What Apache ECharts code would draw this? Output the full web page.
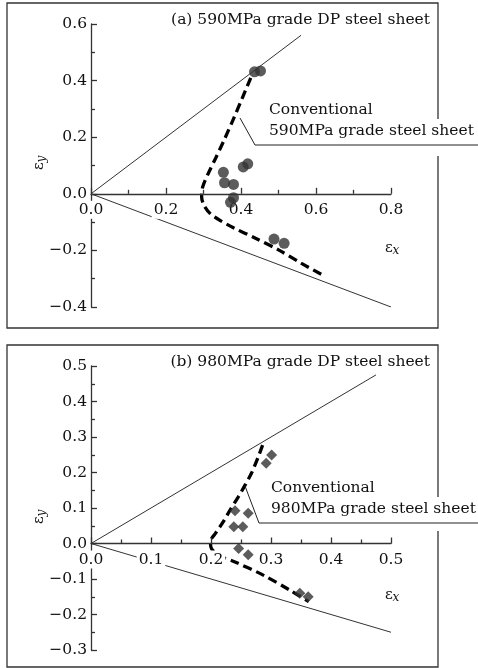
<!DOCTYPE html>
<html>
<head>
<meta charset="utf-8">
<script src="https://cdn.jsdelivr.net/npm/echarts@6/dist/echarts.min.js"></script>
<style>
html, body { margin: 0; padding: 0; background: #fff; }
#chart { width: 478px; height: 668px; }
</style>
</head>
<body>
<div id="chart"></div>
<script>
// (a) 590MPa panel
const guideUpperA = [[0, 0], [0.56, 0.56]];
const guideLowerA = [[0, 0], [0.8, -0.4]];
const conventionalA = [
    [0.426, 0.41], [0.404, 0.34], [0.38, 0.265], [0.355, 0.19], [0.332, 0.125],
    [0.312, 0.07], [0.298, 0.025], [0.295, -0.01], [0.301, -0.04], [0.318, -0.07],
    [0.345, -0.095], [0.38, -0.12], [0.44, -0.158], [0.5, -0.198], [0.56, -0.245],
    [0.625, -0.292],
];
const dpA = [
    [0.436, 0.431], [0.452, 0.434], [0.353, 0.076], [0.356, 0.039], [0.38, 0.033],
    [0.406, 0.095], [0.418, 0.106], [0.372, -0.03], [0.38, -0.014], [0.488, -0.16],
    [0.515, -0.175],
];

// (b) 980MPa panel
const guideUpperB = [[0, 0], [0.475, 0.475]];
const guideLowerB = [[0, 0], [0.5, -0.25]];
const conventionalB = [
    [0.286, 0.277], [0.279, 0.245], [0.268, 0.2], [0.257, 0.165], [0.245, 0.13],
    [0.232, 0.095], [0.22, 0.06], [0.208, 0.03], [0.199, 0.005], [0.201, -0.015],
    [0.215, -0.035], [0.24, -0.052], [0.287, -0.089], [0.332, -0.132], [0.363, -0.164],
];
const dpB = [
    [0.301, 0.249], [0.292, 0.226], [0.24, 0.092], [0.262, 0.085], [0.238, 0.047],
    [0.253, 0.047], [0.246, -0.014], [0.262, -0.032], [0.348, -0.14], [0.362, -0.15],
];

const titleA = "(a) 590MPa grade DP steel sheet";
const titleB = "(b) 980MPa grade DP steel sheet";
const noteA = ["Conventional", "590MPa grade steel sheet"];
const noteB = ["Conventional", "980MPa grade steel sheet"];

const FONT = '"DejaVu Serif", serif';
const INK = "#333";
const TEXT = "#111";

const grids = [
    { left: 91, top: 24, width: 300, height: 283 },
    { left: 91, top: 366, width: 300, height: 284 },
];
const yRanges = [[-0.4, 0.6], [-0.3, 0.5]];

const fmt = (v) => v.toFixed(1).replace("-", "\u2212");

function xAxisOf(gridIndex, max, step) {
    const [lo, hi] = yRanges[gridIndex];
    // x axis crosses at y = 0
    const lift = (-lo) / (hi - lo) * grids[gridIndex].height;
    return {
        type: "value",
        gridIndex,
        min: 0,
        max,
        interval: step,
        position: "bottom",
        offset: -lift,
        z: 2,
        splitLine: { show: false },
        axisLine: { onZero: false, lineStyle: { color: INK, width: 1.3 } },
        axisTick: { inside: true, length: 6, lineStyle: { color: INK, width: 1.3 } },
        minorTick: { show: true, splitNumber: 2, length: 4, lineStyle: { color: INK, width: 1.3 } },
        axisLabel: {
            margin: 7,
            color: TEXT,
            fontFamily: FONT,
            fontSize: 15.5,
            backgroundColor: "#fff",
            padding: [1, 2],
            formatter: fmt,
        },
    };
}

function yAxisOf(gridIndex, step) {
    const [lo, hi] = yRanges[gridIndex];
    return {
        type: "value",
        gridIndex,
        min: lo,
        max: hi,
        interval: step,
        z: 0,
        splitLine: { show: false },
        axisLine: { onZero: false, lineStyle: { color: INK, width: 1.3 } },
        axisTick: { inside: true, length: 6, lineStyle: { color: INK, width: 1.3 } },
        minorTick: { show: true, splitNumber: 2, length: 4, lineStyle: { color: INK, width: 1.3 } },
        axisLabel: { margin: 4, color: TEXT, fontFamily: FONT, fontSize: 15.5, formatter: fmt },
    };
}

function solid(idx, data) {
    return {
        type: "line", xAxisIndex: idx, yAxisIndex: idx, data,
        symbol: "none", z: 1, silent: true,
        lineStyle: { color: INK, width: 1 },
    };
}

function dashed(idx, data) {
    return {
        type: "line", xAxisIndex: idx, yAxisIndex: idx, data,
        symbol: "none", z: 1, silent: true, smooth: 0.3,
        lineStyle: { color: "#000", width: 3.3, type: [9, 5] },
    };
}

function marks(idx, data, symbol, size) {
    return {
        type: "scatter", xAxisIndex: idx, yAxisIndex: idx, data,
        symbol, symbolSize: size, z: 3, silent: true,
        itemStyle: { color: "#333" },
    };
}

function txt(x, y, text, align) {
    const a = align || "left";
    return {
        type: "text", x, y, z: 11,
        style: {
            text, font: "15.5px " + FONT, fill: TEXT,
            align: a, verticalAlign: "middle",
            textAlign: a, textVerticalAlign: "middle",
        },
    };
}

function sym(x, y, main, sub, rotation) {
    return {
        type: "group", x, y, rotation: rotation || 0, z: 11,
        children: [
            {
                type: "text", x: -3, y: 0,
                style: { text: main, font: "15px " + FONT, fill: TEXT, align: "center", verticalAlign: "middle", textAlign: "center", textVerticalAlign: "middle" },
            },
            {
                type: "text", x: 4, y: 3,
                style: { text: sub, font: "italic 12px " + FONT, fill: TEXT, align: "center", verticalAlign: "middle", textAlign: "center", textVerticalAlign: "middle" },
            },
        ],
    };
}

function note(lines, tx, ty, leader, box) {
    return [
        { type: "rect", z: 10, shape: box, style: { fill: "#fff" } },
        { type: "polyline", z: 11, shape: { points: leader }, style: { stroke: "#222", lineWidth: 1, fill: null } },
        txt(tx, ty, lines[0]),
        txt(tx, ty + 21, lines[1]),
    ];
}

const chart = echarts.init(document.getElementById("chart"));

const option = {
    animation: false,
    backgroundColor: "#fff",
    grid: grids,
    xAxis: [xAxisOf(0, 0.8, 0.2), xAxisOf(1, 0.5, 0.1)],
    yAxis: [yAxisOf(0, 0.2), yAxisOf(1, 0.1)],
    series: [
        solid(0, guideUpperA),
        solid(0, guideLowerA),
        dashed(0, conventionalA),
        marks(0, dpA, "circle", 11),
        solid(1, guideUpperB),
        solid(1, guideLowerB),
        dashed(1, conventionalB),
        marks(1, dpB, "diamond", 11),
    ],
    graphic: [
        { type: "rect", z: 0, shape: { x: 7, y: 3, width: 431, height: 325 }, style: { fill: null, stroke: INK, lineWidth: 1.3 } },
        { type: "rect", z: 0, shape: { x: 7, y: 345, width: 431, height: 322 }, style: { fill: null, stroke: INK, lineWidth: 1.3 } },
        txt(430, 20, titleA, "right"),
        txt(430, 362, titleB, "right"),
        ...note(noteA, 269, 110, [[240, 118], [255, 145], [478, 145]], { x: 262, y: 119, width: 216, height: 37 }),
        ...note(noteB, 271, 488, [[245, 486], [259, 523], [478, 523]], { x: 262, y: 497, width: 216, height: 34 }),
        sym(392, 248, "ε", "x"),
        sym(392, 595, "ε", "x"),
        sym(39, 163, "ε", "y", Math.PI / 2),
        sym(39, 517, "ε", "y", Math.PI / 2),
    ],
};

chart.setOption(option);
</script>
</body>
</html>
